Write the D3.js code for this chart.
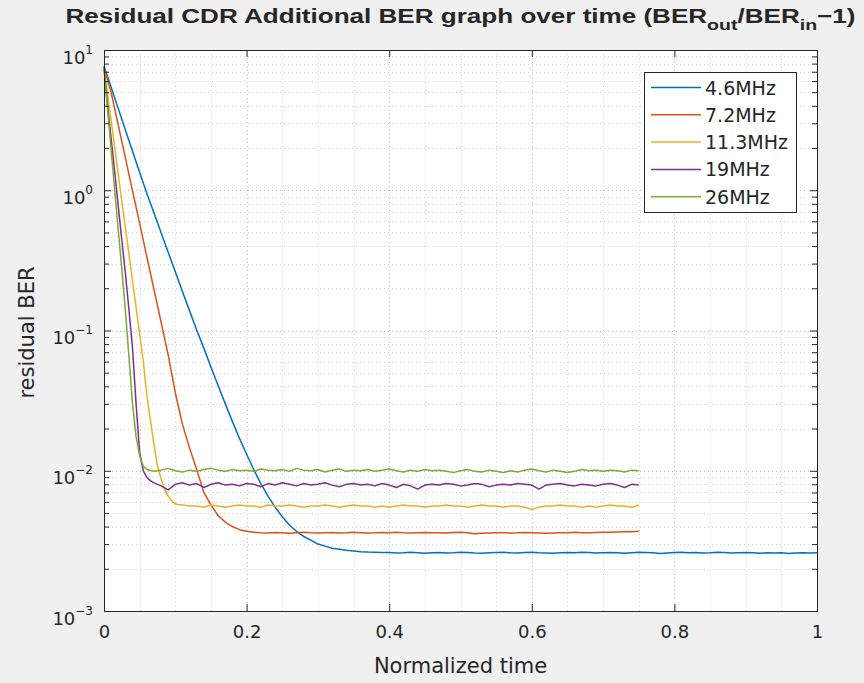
<!DOCTYPE html>
<html>
<head>
<meta charset="utf-8">
<script src="https://cdn.jsdelivr.net/npm/d3@7"></script>
<style>
  body { margin: 0; background: #f0f0f0; }
  text { font-family: "DejaVu Sans", sans-serif; fill: #262626; }
</style>
</head>
<body>
<div id="chart"></div>
<script>
// Series names and colours (MATLAB default order)
const seriesNames = ["4.6MHz", "7.2MHz", "11.3MHz", "19MHz", "26MHz"];
const seriesColors = ["#0072bd", "#d95319", "#edb120", "#7e2f8e", "#77ac30"];

// [normalized time, residual BER]
const ber4_6 = [
  [0.00, 7.7], [0.01, 5.42], [0.02, 3.82], [0.03, 2.69], [0.04, 1.90], [0.05, 1.34], [0.06, 0.953],
  [0.07, 0.690], [0.08, 0.500], [0.09, 0.362], [0.10, 0.262], [0.11, 0.190], [0.12, 0.138], [0.13, 0.101],
  [0.14, 0.0749], [0.15, 0.0550], [0.16, 0.0405], [0.17, 0.0301], [0.18, 0.0225], [0.19, 0.0170],
  [0.20, 0.0131], [0.21, 0.0102], [0.22, 0.0081], [0.23, 0.0066], [0.24, 0.0055], [0.25, 0.0047],
  [0.26, 0.0041], [0.27, 0.0037], [0.28, 0.0034], [0.29, 0.0032], [0.30, 0.0030], [0.31, 0.0029],
  [0.32, 0.0028], [0.33, 0.00276], [0.34, 0.00271], [0.35, 0.00268], [0.36, 0.00265], [0.37, 0.00263],
  [0.38, 0.00262], [0.39, 0.00261], [0.40, 0.00261], [0.41, 0.00259], [0.42, 0.00260], [0.43, 0.00262],
  [0.44, 0.00260], [0.45, 0.00258], [0.46, 0.00260], [0.47, 0.00261], [0.48, 0.00259], [0.49, 0.00260],
  [0.50, 0.00262], [0.51, 0.00261], [0.52, 0.00259], [0.53, 0.00258], [0.54, 0.00260], [0.55, 0.00261],
  [0.56, 0.00262], [0.57, 0.00260], [0.58, 0.00259], [0.59, 0.00261], [0.60, 0.00262], [0.61, 0.00260],
  [0.62, 0.00259], [0.63, 0.00258], [0.64, 0.00260], [0.65, 0.00261], [0.66, 0.00260], [0.67, 0.00262],
  [0.68, 0.00261], [0.69, 0.00259], [0.70, 0.00260], [0.71, 0.00261], [0.72, 0.00260], [0.73, 0.00258],
  [0.74, 0.00260], [0.75, 0.00262], [0.76, 0.00261], [0.77, 0.00260], [0.78, 0.00257], [0.79, 0.00259],
  [0.80, 0.00261], [0.81, 0.00262], [0.82, 0.00260], [0.83, 0.00261], [0.84, 0.00259], [0.85, 0.00260],
  [0.86, 0.00262], [0.87, 0.00261], [0.88, 0.00259], [0.89, 0.00260], [0.90, 0.00261], [0.91, 0.00260],
  [0.92, 0.00258], [0.93, 0.00260], [0.94, 0.00259], [0.95, 0.00260], [0.96, 0.00257], [0.97, 0.00259],
  [0.98, 0.00260], [0.99, 0.00259], [1.00, 0.00260]
];

const ber7_2 = [
  [0.00, 7.5], [0.01, 5.0], [0.02, 2.91], [0.03, 1.70], [0.04, 0.99], [0.05, 0.58], [0.06, 0.337],
  [0.07, 0.197], [0.08, 0.115], [0.09, 0.067], [0.10, 0.036], [0.11, 0.0215], [0.12, 0.0145],
  [0.13, 0.0102], [0.14, 0.0070], [0.15, 0.0057], [0.16, 0.0048], [0.17, 0.0043], [0.18, 0.0040],
  [0.19, 0.0038], [0.20, 0.0037], [0.21, 0.00365], [0.22, 0.00362], [0.23, 0.00360], [0.24, 0.00363],
  [0.25, 0.00361], [0.26, 0.00359], [0.27, 0.00362], [0.28, 0.00364], [0.29, 0.00361], [0.30, 0.00360],
  [0.31, 0.00362], [0.32, 0.00363], [0.33, 0.00360], [0.34, 0.00361], [0.35, 0.00364], [0.36, 0.00362],
  [0.37, 0.00360], [0.38, 0.00361], [0.39, 0.00363], [0.40, 0.00362], [0.41, 0.00364], [0.42, 0.00361],
  [0.43, 0.00360], [0.44, 0.00362], [0.45, 0.00363], [0.46, 0.00361], [0.47, 0.00362], [0.48, 0.00360],
  [0.49, 0.00363], [0.50, 0.00365], [0.51, 0.00362], [0.52, 0.00355], [0.53, 0.00358], [0.54, 0.00360],
  [0.55, 0.00361], [0.56, 0.00362], [0.57, 0.00360], [0.58, 0.00361], [0.59, 0.00363], [0.60, 0.00362],
  [0.61, 0.00360], [0.62, 0.00358], [0.63, 0.00360], [0.64, 0.00361], [0.65, 0.00362], [0.66, 0.00364],
  [0.67, 0.00362], [0.68, 0.00361], [0.69, 0.00363], [0.70, 0.00365], [0.71, 0.00364], [0.72, 0.00366],
  [0.73, 0.00368], [0.74, 0.00367], [0.75, 0.00370]
];

const ber11_3 = [
  [0.000, 7.5], [0.005, 4.84], [0.010, 3.13], [0.015, 2.02], [0.020, 1.30], [0.025, 0.84], [0.030, 0.543],
  [0.035, 0.351], [0.040, 0.226], [0.045, 0.146], [0.050, 0.094], [0.055, 0.061], [0.060, 0.035],
  [0.065, 0.023], [0.070, 0.0155], [0.075, 0.0108], [0.080, 0.0088], [0.085, 0.0074], [0.090, 0.0066],
  [0.095, 0.0061], [0.100, 0.0058], [0.11, 0.0057], [0.12, 0.0056], [0.13, 0.0056], [0.14, 0.0055],
  [0.15, 0.0057], [0.16, 0.0056], [0.17, 0.0055], [0.18, 0.0056], [0.19, 0.0057], [0.20, 0.0056],
  [0.21, 0.0056], [0.22, 0.0055], [0.23, 0.0057], [0.24, 0.0056], [0.25, 0.0056], [0.26, 0.0057],
  [0.27, 0.0056], [0.28, 0.0055], [0.29, 0.0056], [0.30, 0.0056], [0.31, 0.0057], [0.32, 0.0056],
  [0.33, 0.0055], [0.34, 0.0056], [0.35, 0.0057], [0.36, 0.0056], [0.37, 0.0056], [0.38, 0.0055],
  [0.39, 0.0056], [0.40, 0.0055], [0.41, 0.0056], [0.42, 0.0057], [0.43, 0.0056], [0.44, 0.0056],
  [0.45, 0.0055], [0.46, 0.0056], [0.47, 0.0056], [0.48, 0.0057], [0.49, 0.0056], [0.50, 0.0056],
  [0.51, 0.0055], [0.52, 0.0056], [0.53, 0.0057], [0.54, 0.0056], [0.55, 0.0056], [0.56, 0.0055],
  [0.57, 0.0056], [0.58, 0.0056], [0.59, 0.0055], [0.60, 0.0053], [0.61, 0.0055], [0.62, 0.0056],
  [0.63, 0.0056], [0.64, 0.0057], [0.65, 0.0056], [0.66, 0.0056], [0.67, 0.0055], [0.68, 0.0056],
  [0.69, 0.0055], [0.70, 0.0056], [0.71, 0.0057], [0.72, 0.0056], [0.73, 0.0056], [0.74, 0.0055],
  [0.75, 0.0057]
];

const ber19 = [
  [0.000, 7.5], [0.005, 4.0], [0.010, 2.34], [0.015, 1.35], [0.020, 0.77], [0.025, 0.44], [0.030, 0.256],
  [0.035, 0.140], [0.040, 0.075], [0.045, 0.030], [0.050, 0.0135], [0.055, 0.0100], [0.060, 0.0090],
  [0.065, 0.0085], [0.070, 0.0082], [0.075, 0.0080], [0.08, 0.0078], [0.09, 0.0073], [0.10, 0.0080],
  [0.11, 0.0082], [0.12, 0.0079], [0.13, 0.0081], [0.14, 0.0076], [0.15, 0.0080], [0.16, 0.0082],
  [0.17, 0.0079], [0.18, 0.0080], [0.19, 0.0078], [0.20, 0.0081], [0.21, 0.0080], [0.22, 0.0077],
  [0.23, 0.0081], [0.24, 0.0079], [0.25, 0.0082], [0.26, 0.0080], [0.27, 0.0078], [0.28, 0.0081],
  [0.29, 0.0079], [0.30, 0.0080], [0.31, 0.0082], [0.32, 0.0079], [0.33, 0.0077], [0.34, 0.0080],
  [0.35, 0.0081], [0.36, 0.0079], [0.37, 0.0080], [0.38, 0.0078], [0.39, 0.0081], [0.40, 0.0079],
  [0.41, 0.0076], [0.42, 0.0080], [0.43, 0.0078], [0.44, 0.0074], [0.45, 0.0079], [0.46, 0.0080],
  [0.47, 0.0079], [0.48, 0.0081], [0.49, 0.0080], [0.50, 0.0078], [0.51, 0.0079], [0.52, 0.0081],
  [0.53, 0.0080], [0.54, 0.0077], [0.55, 0.0079], [0.56, 0.0080], [0.57, 0.0079], [0.58, 0.0081],
  [0.59, 0.0080], [0.60, 0.0079], [0.61, 0.0074], [0.62, 0.0079], [0.63, 0.0080], [0.64, 0.0081],
  [0.65, 0.0079], [0.66, 0.0078], [0.67, 0.0080], [0.68, 0.0079], [0.69, 0.0078], [0.70, 0.0080],
  [0.71, 0.0081], [0.72, 0.0079], [0.73, 0.0076], [0.74, 0.0080], [0.75, 0.0079]
];

const ber26 = [
  [0.000, 7.5], [0.005, 3.8], [0.010, 1.95], [0.015, 1.0], [0.020, 0.52], [0.025, 0.275], [0.030, 0.138],
  [0.035, 0.065], [0.040, 0.030], [0.045, 0.0175], [0.050, 0.0128], [0.055, 0.0108], [0.06, 0.0102],
  [0.07, 0.0099], [0.08, 0.0101], [0.09, 0.0104], [0.10, 0.0100], [0.11, 0.0098], [0.12, 0.0101],
  [0.13, 0.0099], [0.14, 0.0102], [0.15, 0.0104], [0.16, 0.0101], [0.17, 0.0099], [0.18, 0.0102],
  [0.19, 0.0100], [0.20, 0.0101], [0.21, 0.0099], [0.22, 0.0103], [0.23, 0.0101], [0.24, 0.0100],
  [0.25, 0.0102], [0.26, 0.0099], [0.27, 0.0104], [0.28, 0.0101], [0.29, 0.0100], [0.30, 0.0102],
  [0.31, 0.0098], [0.32, 0.0101], [0.33, 0.0103], [0.34, 0.0099], [0.35, 0.0101], [0.36, 0.0100],
  [0.37, 0.0102], [0.38, 0.0099], [0.39, 0.0101], [0.40, 0.0103], [0.41, 0.0100], [0.42, 0.0098],
  [0.43, 0.0101], [0.44, 0.0099], [0.45, 0.0102], [0.46, 0.0100], [0.47, 0.0101], [0.48, 0.0099],
  [0.49, 0.0097], [0.50, 0.0100], [0.51, 0.0102], [0.52, 0.0099], [0.53, 0.0098], [0.54, 0.0101],
  [0.55, 0.0099], [0.56, 0.0097], [0.57, 0.0100], [0.58, 0.0098], [0.59, 0.0101], [0.60, 0.0103],
  [0.61, 0.0100], [0.62, 0.0098], [0.63, 0.0101], [0.64, 0.0099], [0.65, 0.0097], [0.66, 0.0099],
  [0.67, 0.0102], [0.68, 0.0100], [0.69, 0.0101], [0.70, 0.0099], [0.71, 0.0101], [0.72, 0.0100],
  [0.73, 0.0098], [0.74, 0.0101], [0.75, 0.0100]
];

const seriesData = [ber4_6, ber7_2, ber11_3, ber19, ber26];

// Axis ticks
const xTicks = [0, 0.2, 0.4, 0.6, 0.8, 1];
const xMinorGrid = [0.05, 0.1, 0.15, 0.25, 0.3, 0.35, 0.45, 0.5, 0.55, 0.65, 0.7, 0.75, 0.85, 0.9, 0.95];
const yTicks = [1e-3, 1e-2, 1e-1, 1, 10];
const yExponents = ["−3", "−2", "−1", "0", "1"];
const yMinor = [];
[1e-3, 1e-2, 1e-1, 1].forEach(d => [2, 3, 4, 5, 6, 7, 8, 9].forEach(m => yMinor.push(d * m)));

const W = 864, H = 683;
const plot = { left: 104, right: 817, top: 50, bottom: 611 };

const svg = d3.select("#chart").append("svg")
  .attr("width", W).attr("height", H);

svg.append("rect").attr("width", W).attr("height", H).attr("fill", "#f0f0f0");

const x = d3.scaleLinear().domain([0, 1]).range([plot.left, plot.right]);
const y = d3.scaleLog().domain([1e-3, 10]).range([plot.bottom, plot.top]);

svg.append("rect")
  .attr("x", plot.left).attr("y", plot.top)
  .attr("width", plot.right - plot.left).attr("height", plot.bottom - plot.top)
  .attr("fill", "#ffffff");

// Grid (dotted, major + minor)
const grid = svg.append("g").attr("fill", "none").attr("stroke-width", 1);
grid.selectAll(".gx").data(xTicks.concat(xMinorGrid)).enter().append("line")
  .attr("x1", d => Math.round(x(d)) + 0.5).attr("x2", d => Math.round(x(d)) + 0.5)
  .attr("y1", plot.top).attr("y2", plot.bottom)
  .attr("stroke", d => xTicks.includes(d) ? "#bdbdbd" : "#d2d2d2")
  .attr("stroke-dasharray", "1,3");
grid.selectAll(".gy").data(yTicks.concat(yMinor)).enter().append("line")
  .attr("x1", plot.left).attr("x2", plot.right)
  .attr("y1", d => Math.round(y(d)) + 0.5).attr("y2", d => Math.round(y(d)) + 0.5)
  .attr("stroke", d => yTicks.includes(d) ? "#bdbdbd" : "#d2d2d2")
  .attr("stroke-dasharray", "1,3");

// Lines
const line = d3.line().x(d => x(d[0])).y(d => y(d[1]));
svg.append("g").selectAll("path").data(seriesData).enter().append("path")
  .attr("d", line)
  .attr("fill", "none")
  .attr("stroke", (d, i) => seriesColors[i])
  .attr("stroke-width", 1.5)
  .attr("stroke-linejoin", "round");

// Axes (ticks pointing inward, box on)
const axisColor = "#262626";
const bottomAxis = svg.append("g")
  .attr("transform", `translate(0,${plot.bottom})`)
  .call(d3.axisBottom(x).tickValues(xTicks).tickSize(-7).tickPadding(14).tickFormat(d3.format("~g")));
bottomAxis.selectAll("text").attr("font-size", 18).style("font-family", "DejaVu Sans");

svg.append("g")
  .attr("transform", `translate(0,${plot.top})`)
  .call(d3.axisTop(x).tickValues(xTicks).tickSize(-7).tickFormat(""));

const leftAxis = svg.append("g")
  .attr("transform", `translate(${plot.left},0)`)
  .call(d3.axisLeft(y).tickValues(yTicks).tickSize(-7).tickPadding(11).tickFormat(""));
leftAxis.selectAll(".tick text")
  .attr("dy", null)
  .attr("y", 13)
  .attr("font-size", 18)
  .style("font-family", "DejaVu Sans")
  .each(function (d, i) {
    const t = d3.select(this);
    t.append("tspan").text("10");
    t.append("tspan").attr("font-size", 12).attr("dy", -10).text(yExponents[i]);
  });

svg.append("g")
  .attr("transform", `translate(${plot.left},0)`)
  .call(d3.axisLeft(y).tickValues(yMinor).tickSize(-5).tickFormat(""));

svg.append("g")
  .attr("transform", `translate(${plot.right},0)`)
  .call(d3.axisRight(y).tickValues(yTicks).tickSize(-7).tickFormat(""));
svg.append("g")
  .attr("transform", `translate(${plot.right},0)`)
  .call(d3.axisRight(y).tickValues(yMinor).tickSize(-5).tickFormat(""));

svg.selectAll(".domain").remove();
svg.selectAll(".tick line").attr("stroke", axisColor);

svg.append("rect")
  .attr("x", plot.left + 0.5).attr("y", plot.top + 0.5)
  .attr("width", plot.right - plot.left).attr("height", plot.bottom - plot.top)
  .attr("fill", "none").attr("stroke", axisColor).attr("stroke-width", 1);

// Axis labels
svg.append("text")
  .attr("x", (plot.left + plot.right) / 2).attr("y", 673)
  .attr("text-anchor", "middle").attr("font-size", 21)
  .text("Normalized time");

svg.append("text")
  .attr("transform", `translate(34,${(plot.top + plot.bottom) / 2 + 2}) rotate(-90)`)
  .attr("text-anchor", "middle").attr("font-size", 21)
  .text("residual BER");

// Title with subscripts
const title = svg.append("text")
  .attr("x", (plot.left + plot.right) / 2).attr("y", 23)
  .attr("text-anchor", "middle")
  .attr("font-size", 20).attr("font-weight", "bold")
  .style("font-family", "Liberation Sans");
title.append("tspan").text("Residual CDR Additional BER graph over time (BER");
title.append("tspan").attr("dy", 7).attr("font-size", 15).text("out");
title.append("tspan").attr("dy", -7).text("/BER");
title.append("tspan").attr("dy", 7).attr("font-size", 15).text("in");
title.append("tspan").attr("dy", -7).text("−1)");
title.attr("textLength", 790).attr("lengthAdjust", "spacingAndGlyphs");

// Legend
const legend = { x: 644, y: 72, w: 152, h: 140, row: 27.3 };
svg.append("rect")
  .attr("x", legend.x + 0.5).attr("y", legend.y + 0.5)
  .attr("width", legend.w).attr("height", legend.h)
  .attr("fill", "#ffffff").attr("stroke", axisColor);

const items = svg.append("g").selectAll("g").data(seriesNames).enter().append("g")
  .attr("transform", (d, i) => `translate(${legend.x},${legend.y + 15.5 + i * legend.row})`);
items.append("line")
  .attr("x1", 7).attr("x2", 57)
  .attr("stroke", (d, i) => seriesColors[i]).attr("stroke-width", 1.5);
items.append("text")
  .attr("x", 61).attr("y", 7)
  .attr("font-size", 19)
  .text(d => d);
</script>
</body>
</html>
